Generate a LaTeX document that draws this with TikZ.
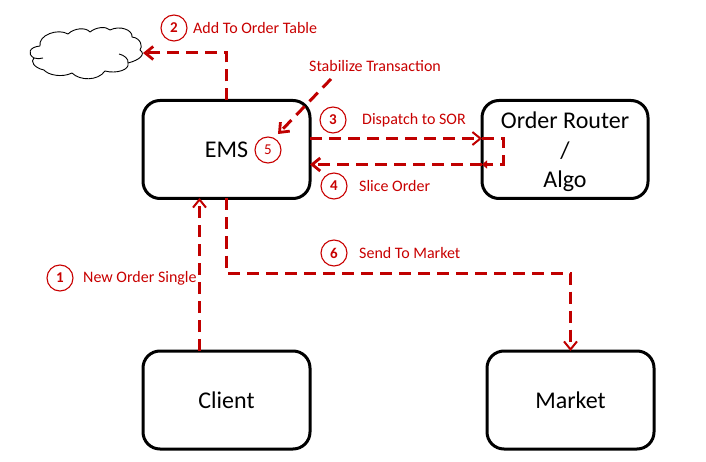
\documentclass[tikz,border=0pt]{standalone}
\usepackage{fontspec}
\setmainfont{Carlito}
\usetikzlibrary{arrows.meta,calc}
\definecolor{flow}{HTML}{C00000}
\definecolor{lab}{HTML}{C80000}
\newcommand{\dropline}[2]{\raisebox{-#1}[\height][\depth]{#2}}
\tikzset{
  box/.style={draw=black,line width=3pt,rounded corners=17pt,minimum width=167pt,minimum height=98pt,outer sep=0pt,align=center,font=\fontsize{24}{28.5}\selectfont,inner sep=0pt},
  num/.style={circle,draw=lab,line width=1.1pt,minimum size=26pt,inner sep=0pt,text=lab,font=\fontsize{15}{15}\selectfont},
  lbl/.style={anchor=west,text=lab,inner sep=0pt,font=\fontsize{16}{17}\selectfont},
  link/.style={draw=flow,line width=3pt,dash pattern=on 12pt off 7pt},
  headfull/.style={-{Straight Barb[length=8pt,width=13pt,line width=2.8pt,flow]}},
  headopen/.style={-{Straight Barb[length=8pt,width=13pt,line width=2pt,flow]}},
  headsmall/.style={-{Triangle[length=5pt,width=8pt,flow]}},
  cloudline/.style={draw=black,line width=0.9pt,line join=round}
}
\begin{document}
\begin{tikzpicture}[x=1pt,y=-1pt]
\useasboundingbox (0,0) rectangle (706,462);
% nodes
\node[box] (ems) at (226.5,149.5) {EMS};
\node[box,minimum width=166pt] (router) at (565,149.5) {\dropline{1pt}{Order Router}\\\dropline{3pt}{/}\\\dropline{3pt}{Algo}};
\node[box] (client) at (226.5,400) {Client};
\node[box] (market) at (570.5,400) {Market};
% cloud
\draw[cloudline,fill=white]
  (40,46) .. controls (38,35) and (58,28) .. (68,34)
  .. controls (74,28) and (86,27) .. (90,32)
  .. controls (96,27) and (106,26) .. (110,30)
  .. controls (120,25) and (133,30) .. (132,37)
  .. controls (141,38) and (143,47) .. (140,50)
  .. controls (146,54) and (140,60) .. (128,63)
  .. controls (130,70) and (116,74) .. (105,71)
  .. controls (98,81) and (80,81) .. (72,73)
  .. controls (62,78) and (48,75) .. (44,70)
  .. controls (34,68) and (30,61) .. (34,58)
  .. controls (27,54) and (29,47) .. (40,46) -- cycle;
\draw[cloudline] (119,54) .. controls (124,55) and (129,59) .. (128,63);
\draw[cloudline] (34,58) .. controls (37,59) and (40,59) .. (43,58);
\coordinate (cloudeast) at (143,53);
\coordinate (ordercorner) at (226.5,53);
% numbered circles and labels
\node[num] (n2) at (174,28) {\textbf{2}};
\node[lbl] (l2) at (193,28.5) {Add To Order Table};
\node[lbl] (ls) at (309,66.5) {Stabilize Transaction};
\node[num] (n5) at (268,150) {5};
\node[num] (n3) at (333,120) {\textbf{3}};
\node[lbl] (l3) at (362,120.5) {Dispatch to SOR};
\node[num] (n4) at (334,186) {\textbf{4}};
\node[lbl] (l4) at (359,186.5) {Slice Order};
\node[num] (n1) at (60,278) {\textbf{1}};
\node[lbl] (l1) at (83,278.5) {New Order Single};
\node[num] (n6) at (334,253) {\textbf{6}};
\node[lbl] (l6) at (359,253.5) {Send To Market};
% connector way points
\coordinate (stabstart) at (331,79);
\coordinate (stabend) at (278,134);
\coordinate (sorout) at (ems.east |- 0,138.5);
\coordinate (sorin) at (router.west |- 0,138.5);
\coordinate (loopa) at (503,138.5);
\coordinate (loopb) at (503,164.5);
\coordinate (loopc) at (router.west |- 0,164.5);
\coordinate (sliceend) at (ems.east |- 0,164.5);
\coordinate (clientup) at (199.5,351);
\coordinate (emsin) at (199.5,198);
\coordinate (mktcornera) at (226.5,273);
\coordinate (mktcornerb) at (market.north |- 0,273);
% connectors
\draw[link,headfull] (ems.north) -- (ordercorner) -- (cloudeast);
\draw[link,headfull] (stabstart) -- (stabend);
\draw[link,headopen] (sorout) -- (sorin);
\draw[link,headsmall] (sorin) -- (loopa) -- (loopb) -- (loopc);
\draw[link,headfull] (loopc) -- (sliceend);
\draw[link,headopen] (clientup) -- (emsin);
\draw[link,headopen] (ems.south) -- (mktcornera) -- (mktcornerb) -- (market.north);
\end{tikzpicture}
\end{document}
